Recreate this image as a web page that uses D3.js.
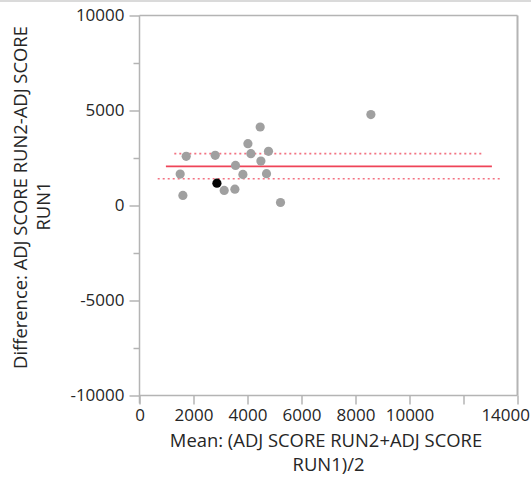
<!DOCTYPE html>
<html>
<head>
<meta charset="utf-8">
<script src="https://cdn.jsdelivr.net/npm/d3@7"></script>
<style>
  html, body { margin: 0; padding: 0; background: #fff; }
  svg { display: block; }
  text { font-family: "Open Sans", "Noto Sans", sans-serif; fill: #262626; }
</style>
</head>
<body>
<svg id="chart" width="531" height="481"></svg>
<script>
// ---- data ----
const meanValues = [8570, 4470, 4015, 4126, 4778, 1730, 2804, 4496, 3556, 1507, 3830, 4704, 3137, 3533, 1607, 5222, 2867];
const diffValues = [4786, 4132, 3256, 2728, 2850, 2586, 2639, 2338, 2111, 1652, 1636, 1673, 792, 860, 528, 158, 1177];
const highlighted = [false, false, false, false, false, false, false, false, false, false, false, false, false, false, false, false, true];

const refLineNames = ["mean", "upper", "lower"];
const refLineValues = [2058, 2728, 1409];
const refLineStart = [978, 1289, 674];
const refLineEnd = [13052, 12685, 13422];

const xTickValues = [0, 2000, 4000, 6000, 8000, 10000, 12000, 14000];
const xTickLabels = ["0", "2000", "4000", "6000", "8000", "10000", "", "14000"];
const yMajorTicks = [-10000, -5000, 0, 5000, 10000];
const yMajorLabels = ["-10000", "-5000", "0", "5000", "10000"];
const yMinorTicks = [-7500, -2500, 2500, 7500];

const xTitleLines = ["Mean: (ADJ SCORE RUN2+ADJ SCORE", "RUN1)/2"];
const yTitleLines = ["Difference: ADJ SCORE RUN2-ADJ SCORE", "RUN1"];

// ---- layout ----
const svg = d3.select("#chart");
const x = d3.scaleLinear().domain([0, 14000]).range([139.5, 517.5]);
const y = d3.scaleLinear().domain([-10000, 10000]).range([395.5, 15.5]);
const axisColor = "#b4b4b4";
const red = "#ef4458";

// top window edge band
svg.append("rect").attr("x", 0).attr("y", 0).attr("width", 531).attr("height", 2).attr("fill", "#dadada");

// frame (top and right)
svg.append("line").attr("x1", x(0)).attr("x2", x(14000)).attr("y1", y(10000)).attr("y2", y(10000))
  .attr("stroke", axisColor).attr("stroke-width", 1.5);
svg.append("line").attr("x1", x(14000)).attr("x2", x(14000)).attr("y1", y(10000)).attr("y2", y(-10000))
  .attr("stroke", axisColor).attr("stroke-width", 2);

// y axis
const yAxisG = svg.append("g").attr("transform", `translate(${x(0)},0)`)
  .call(d3.axisLeft(y).tickValues(yMajorTicks).tickSize(10).tickPadding(5)
    .tickFormat((d, i) => yMajorLabels[i]));
svg.append("g").attr("transform", `translate(${x(0)},0)`)
  .call(d3.axisLeft(y).tickValues(yMinorTicks).tickSize(6).tickFormat(""))
  .call(g => g.select(".domain").remove());

// x axis
const xAxisG = svg.append("g").attr("transform", `translate(0,${y(-10000)})`)
  .call(d3.axisBottom(x).tickValues(xTickValues).tickSize(9).tickPadding(4)
    .tickFormat((d, i) => xTickLabels[i]));

svg.selectAll(".domain").attr("stroke", axisColor).attr("stroke-width", 1.5);
svg.selectAll(".tick line").attr("stroke", axisColor).attr("stroke-width", 1.5);
svg.selectAll(".tick text").style("font-family", "'Open Sans', sans-serif").style("font-size", "17px").attr("fill", "#262626");
yAxisG.selectAll(".domain").attr("d", `M0,${y(10000)}V${y(-10000) + 8}`);
xAxisG.selectAll(".domain").attr("d", `M${x(0)},0H${x(14000)}`);
// keep the last x label inside the window (as the reference does)
xAxisG.selectAll(".tick text").filter(d => d === 14000)
  .attr("text-anchor", "end").attr("dx", 12);

// reference lines
refLineNames.forEach((name, i) => {
  const ln = svg.append("line")
    .attr("x1", x(refLineStart[i])).attr("x2", x(refLineEnd[i]))
    .attr("y1", y(refLineValues[i])).attr("y2", y(refLineValues[i]))
    .attr("stroke", red);
  if (name === "mean") {
    ln.attr("stroke-width", 1.6);
  } else {
    ln.attr("stroke-width", 1.6).attr("stroke-dasharray", "2,3").attr("stroke-opacity", 0.75);
  }
});

// points
svg.append("g").selectAll("circle")
  .data(meanValues.map((m, i) => ({ m, d: diffValues[i], h: highlighted[i] })))
  .join("circle")
  .attr("cx", p => x(p.m))
  .attr("cy", p => y(p.d))
  .attr("r", 4.6)
  .attr("fill", p => p.h ? "#050505" : "#a0a0a0");

// x title
svg.append("text").attr("text-anchor", "middle").style("font-size", "18.4px")
  .selectAll("tspan").data(xTitleLines).join("tspan")
  .attr("x", (d, i) => i === 0 ? 326 : 328.5)
  .attr("y", (d, i) => 446.5 + i * 24)
  .text(d => d);

// y title
svg.append("text").attr("text-anchor", "middle").style("font-size", "18.4px")
  .attr("transform", "rotate(-90)")
  .selectAll("tspan").data(yTitleLines).join("tspan")
  .attr("x", (d, i) => i === 0 ? -197.5 : -206)
  .attr("y", (d, i) => 26.5 + i * 23.5)
  .text(d => d);
</script>
</body>
</html>
